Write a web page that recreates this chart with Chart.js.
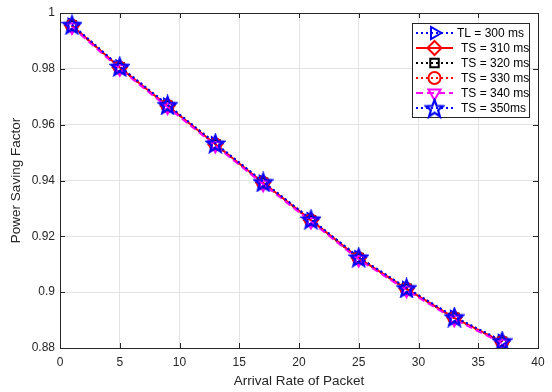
<!DOCTYPE html>
<html>
<head>
<meta charset="utf-8">
<script src="https://cdn.jsdelivr.net/npm/chart.js@4.4.1/dist/chart.umd.min.js"></script>
<style>
  html, body { margin: 0; padding: 0; background: #fff; }
  #wrap { width: 552px; height: 392px; }
</style>
</head>
<body>
<div id="wrap"><canvas id="chart" width="552" height="392"></canvas></div>
<script>
// data
const arrivalRate = [1, 5, 9, 13, 17, 21, 25, 29, 33, 37];
const tl300 = [0.9958, 0.9808, 0.9671, 0.9533, 0.9395, 0.9261, 0.9125, 0.9015, 0.8911, 0.8825];
const ts310 = [0.9955, 0.9805, 0.9668, 0.9530, 0.9392, 0.9258, 0.9122, 0.9012, 0.8908, 0.8822];
const ts320 = [0.9955, 0.9805, 0.9668, 0.9530, 0.9392, 0.9258, 0.9122, 0.9012, 0.8908, 0.8822];
const ts330 = [0.9954, 0.9804, 0.9667, 0.9529, 0.9391, 0.9257, 0.9121, 0.9011, 0.8907, 0.8821];
const ts340 = [0.9950, 0.9800, 0.9663, 0.9525, 0.9387, 0.9253, 0.9117, 0.9007, 0.8903, 0.8817];
const ts350 = [0.9958, 0.9808, 0.9671, 0.9533, 0.9395, 0.9261, 0.9125, 0.9015, 0.8911, 0.8825];
const seriesNames = ['TL = 300 ms', 'TS = 310 ms', 'TS = 320 ms', 'TS = 330 ms', 'TS = 340 ms', 'TS = 350ms'];
const xTicks = [0, 5, 10, 15, 20, 25, 30, 35, 40];
const yTicks = [0.88, 0.9, 0.92, 0.94, 0.96, 0.98, 1];

const FONT = '"Liberation Sans", Arial, sans-serif';

// matlab-ish pentagram marker
function makeStar(color, size) {
  const c = document.createElement('canvas');
  c.width = size; c.height = size;
  const g = c.getContext('2d');
  const cx = size / 2, cy = size / 2 + 1, R = size / 2 - 1.5, r = R * 0.42;
  g.beginPath();
  for (let i = 0; i < 10; i++) {
    const a = -Math.PI / 2 + i * Math.PI / 5;
    const rr = i % 2 === 0 ? R : r;
    g.lineTo(cx + rr * Math.cos(a), cy + rr * Math.sin(a));
  }
  g.closePath();
  g.strokeStyle = color;
  g.lineWidth = 2.2;
  g.stroke();
  return c;
}
const starImg = makeStar('#0000ff', 21);

function pts(ys) { return arrivalRate.map((x, i) => ({ x: x, y: ys[i] })); }

// chart.js paints dataset 0 last, so the last series of the figure comes first
const datasets = [
  { label: seriesNames[5], data: pts(ts350), borderColor: '#0000ff', borderDash: [2, 3], pointStyle: starImg, pointRadius: 10, pointRotation: 0 },
  { label: seriesNames[4], data: pts(ts340), borderColor: '#ff00ff', borderDash: [7, 4], pointStyle: 'triangle', pointRadius: 7, pointRotation: 180 },
  { label: seriesNames[3], data: pts(ts330), borderColor: '#ff0000', borderDash: [2, 3], pointStyle: 'circle', pointRadius: 6, pointRotation: 0 },
  { label: seriesNames[2], data: pts(ts320), borderColor: '#000000', borderDash: [2, 3], pointStyle: 'rect', pointRadius: 6, pointRotation: 0 },
  { label: seriesNames[1], data: pts(ts310), borderColor: '#ff0000', borderDash: [], pointStyle: 'rectRot', pointRadius: 7, pointRotation: 0 },
  { label: seriesNames[0], data: pts(tl300), borderColor: '#0000ff', borderDash: [2, 3], pointStyle: 'triangle', pointRadius: 7, pointRotation: 90 }
].map(d => Object.assign(d, {
  borderWidth: 2,
  pointBorderColor: d.borderColor,
  pointBackgroundColor: 'rgba(0,0,0,0)',
  pointBorderWidth: 2,
  fill: false,
  tension: 0
}));

const frame = {
  id: 'frame',
  afterDraw(chart) {
    const { ctx, chartArea: a } = chart;
    ctx.save();
    ctx.strokeStyle = '#262626';
    ctx.lineWidth = 1;
    ctx.strokeRect(a.left + 0.5, a.top + 0.5, a.right - a.left, a.bottom - a.top);
    // inward ticks on all four sides
    const xs = chart.scales.x, ys = chart.scales.y;
    ctx.beginPath();
    xTicks.forEach(v => {
      const px = Math.round(xs.getPixelForValue(v)) + 0.5;
      ctx.moveTo(px, a.bottom); ctx.lineTo(px, a.bottom - 5);
      ctx.moveTo(px, a.top); ctx.lineTo(px, a.top + 5);
    });
    yTicks.forEach(v => {
      const py = Math.round(ys.getPixelForValue(v)) + 0.5;
      ctx.moveTo(a.left, py); ctx.lineTo(a.left + 5, py);
      ctx.moveTo(a.right, py); ctx.lineTo(a.right - 5, py);
    });
    ctx.stroke();

    // legend box
    const bx = a.right - 126, by = a.top + 10, bw = 117, bh = 94, rowH = 15;
    ctx.fillStyle = '#ffffff';
    ctx.fillRect(bx, by, bw, bh);
    ctx.strokeStyle = '#262626';
    ctx.strokeRect(bx + 0.5, by + 0.5, bw, bh);
    seriesNames.forEach((name, i) => {
      const meta = chart.data.datasets.find(d => d.label === name);
      const y = by + 10 + i * rowH;
      const x0 = bx + 4, x1 = bx + 41, mx = (x0 + x1) / 2;
      ctx.save();
      ctx.strokeStyle = meta.borderColor;
      ctx.lineWidth = 2;
      ctx.setLineDash(meta.borderDash);
      ctx.beginPath(); ctx.moveTo(x0, y); ctx.lineTo(x1, y); ctx.stroke();
      ctx.setLineDash([]);
      ctx.fillStyle = 'rgba(0,0,0,0)';
      ctx.lineWidth = 2;
      Chart.helpers.drawPoint(ctx, {
        pointStyle: meta.pointStyle, radius: meta.pointRadius, rotation: meta.pointRotation, borderWidth: 2
      }, mx, y);
      ctx.restore();
      ctx.fillStyle = '#000';
      ctx.font = '12px ' + FONT;
      ctx.textBaseline = 'middle';
      ctx.fillText(name, bx + (i === 0 ? 45 : 49), y + 1);
    });
    ctx.restore();
  }
};

new Chart(document.getElementById('chart'), {
  type: 'line',
  data: { datasets: datasets },
  plugins: [frame],
  options: {
    responsive: false,
    animation: false,
    layout: { padding: { left: 0, right: 14, top: 13, bottom: 0 } },
    plugins: { legend: { display: false }, tooltip: { enabled: false } },
    scales: {
      x: {
        type: 'linear', min: 0, max: 40,
        afterBuildTicks: s => { s.ticks = xTicks.map(v => ({ value: v })); },
        afterFit: s => { s.height = 44; },
        grid: { color: '#e3e3e3', drawTicks: false },
        border: { display: false },
        ticks: { color: '#262626', padding: 7, maxRotation: 0, font: { family: FONT, size: 12 } },
        title: { display: true, text: 'Arrival Rate of Packet', color: '#262626', padding: { top: 4, bottom: 3 }, font: { family: FONT, size: 13.5 } }
      },
      y: {
        type: 'linear', min: 0.88, max: 1,
        afterBuildTicks: s => { s.ticks = yTicks.map(v => ({ value: v })); },
        afterFit: s => { s.width = 60; },
        grid: { color: '#e3e3e3', drawTicks: false },
        border: { display: false },
        ticks: {
          color: '#262626', padding: 5,
          font: { family: FONT, size: 12 },
          callback: v => String(Number(v.toFixed(2)))
        },
        title: { display: true, text: 'Power Saving Factor', color: '#262626', padding: { top: 8, bottom: 2 }, font: { family: FONT, size: 13.5 } }
      }
    }
  }
});
</script>
</body>
</html>
